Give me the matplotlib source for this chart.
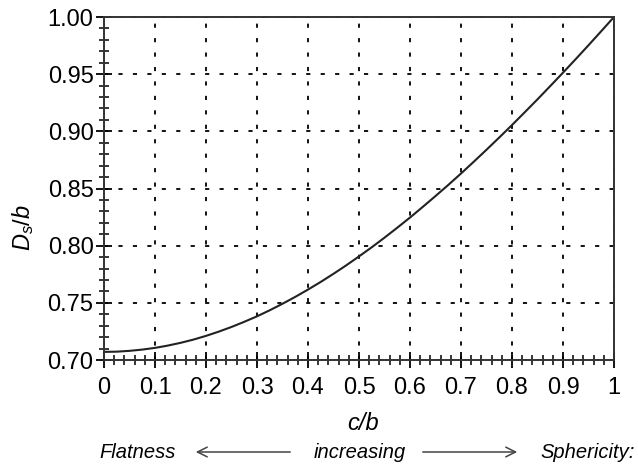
import matplotlib
matplotlib.use("Agg")
import matplotlib.pyplot as plt
from matplotlib.ticker import MultipleLocator
from matplotlib.patches import FancyArrowPatch

plt.rcParams['font.family'] = ['Liberation Sans', 'DejaVu Sans']
plt.rcParams['mathtext.fontset'] = 'custom'
plt.rcParams['mathtext.it'] = 'Liberation Sans:italic'
plt.rcParams['mathtext.rm'] = 'Liberation Sans'

c_over_b = [0.0, 0.025, 0.05, 0.075, 0.1, 0.125, 0.15, 0.175, 0.2, 0.225, 0.25,
            0.275, 0.3, 0.325, 0.35, 0.375, 0.4, 0.425, 0.45, 0.475, 0.5,
            0.525, 0.55, 0.575, 0.6, 0.625, 0.65, 0.675, 0.7, 0.725, 0.75,
            0.775, 0.8, 0.825, 0.85, 0.875, 0.9, 0.925, 0.95, 0.975, 1.0]
ds_over_b = [0.7071, 0.7073, 0.7080, 0.7091, 0.7106, 0.7126, 0.7150, 0.7178, 0.7211, 0.7248, 0.7289,
             0.7334, 0.7382, 0.7435, 0.7492, 0.7552, 0.7616, 0.7683, 0.7754, 0.7828, 0.7906,
             0.7986, 0.8070, 0.8157, 0.8246, 0.8339, 0.8434, 0.8531, 0.8631, 0.8734, 0.8839,
             0.8946, 0.9055, 0.9167, 0.9280, 0.9396, 0.9513, 0.9632, 0.9753, 0.9876, 1.0]
x_ticks = [0, 0.1, 0.2, 0.3, 0.4, 0.5, 0.6, 0.7, 0.8, 0.9, 1]
x_tick_labels = ['0', '0.1', '0.2', '0.3', '0.4', '0.5', '0.6', '0.7', '0.8', '0.9', '1']
y_ticks = [0.70, 0.75, 0.80, 0.85, 0.90, 0.95, 1.00]
y_tick_labels = ['0.70', '0.75', '0.80', '0.85', '0.90', '0.95', '1.00']

W, H = 638, 468
fig = plt.figure(figsize=(W/100, H/100), dpi=100)
ax = fig.add_axes([104/W, 1 - 360/H, (614-104)/W, (360-17)/H])

ax.plot(c_over_b, ds_over_b, color='#222222', lw=1.5)
ax.set_xlim(0, 1)
ax.set_ylim(0.70, 1.00)
ax.set_xticks(x_ticks)
ax.set_xticklabels(x_tick_labels)
ax.set_yticks(y_ticks)
ax.set_yticklabels(y_tick_labels)
ax.xaxis.set_minor_locator(MultipleLocator(0.02))
ax.yaxis.set_minor_locator(MultipleLocator(0.01))
ax.tick_params(which='major', direction='inout', length=11, width=1.3, labelsize=17, colors='black')
ax.tick_params(which='minor', direction='inout', length=7, width=1.1)
ax.tick_params(axis='y', which='major', pad=2)
ax.tick_params(axis='x', which='major', pad=7)
ax.grid(True, which='major', linestyle=(0, (2.3, 5.7)), color='black', lw=1.3)
for s in ax.spines.values():
    s.set_linewidth(1.4)
    s.set_color('#333333')

fig.text(363/W, 1 - 423/H, 'c/b', fontsize=17, style='italic', ha='center', va='center')
fig.text(23/W, 1 - 228/H, r'$D_s/b$', fontsize=17, rotation=90, ha='center', va='center')

ty = 1 - 452/H
fig.text(138/W, ty, 'Flatness', style='italic', fontsize=14.5, ha='center', va='center')
fig.text(360/W, ty, 'increasing', style='italic', fontsize=14.5, ha='center', va='center')
fig.text(588/W, ty, 'Sphericity:', style='italic', fontsize=14.5, ha='center', va='center')
fig.add_artist(FancyArrowPatch((293/W, ty), (193/W, ty), transform=fig.transFigure,
               arrowstyle='->,head_length=7,head_width=3.5', color='#444444', lw=1.1))
fig.add_artist(FancyArrowPatch((420/W, ty), (520/W, ty), transform=fig.transFigure,
               arrowstyle='->,head_length=7,head_width=3.5', color='#444444', lw=1.1))

fig.savefig('out.png', dpi=100)
